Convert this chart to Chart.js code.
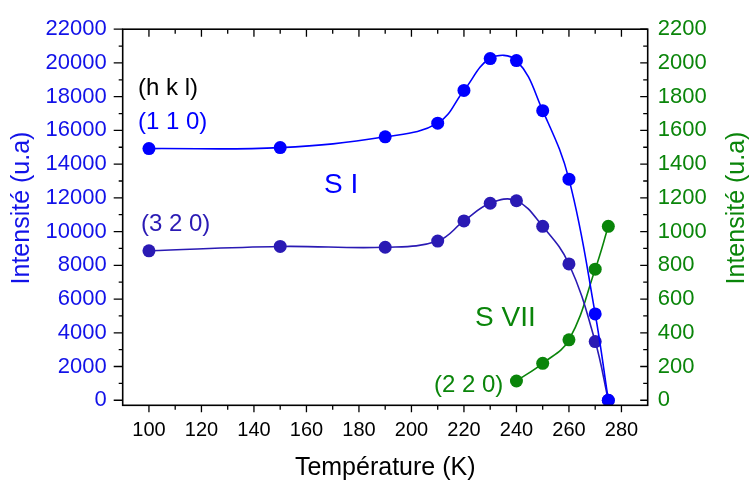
<!DOCTYPE html>
<html>
<head>
<meta charset="utf-8">
<script src="https://cdn.jsdelivr.net/npm/chart.js@4"></script>
<style>
  html, body { margin: 0; padding: 0; background: #fff; }
  #c { display: block; }
</style>
</head>
<body>
<canvas id="c" width="750" height="486"></canvas>
<script>
// ---- data ----
const temps110 = [100, 150, 190, 210, 220, 230, 240, 250, 260, 270, 275];
const int110   = [14920, 14980, 15620, 16430, 18370, 20260, 20140, 17170, 13110, 5120, 0];
const temps320 = [100, 150, 190, 210, 220, 230, 240, 250, 260, 270, 275];
const int320   = [8860, 9120, 9070, 9440, 10630, 11680, 11830, 10310, 8080, 3480, 0];
const temps220 = [240, 250, 260, 270, 275];
const int220   = [114, 219, 358, 777, 1031];

const xTicks      = [100, 120, 140, 160, 180, 200, 220, 240, 260, 280];
const yLeftTicks  = [0, 2000, 4000, 6000, 8000, 10000, 12000, 14000, 16000, 18000, 20000, 22000];
const yRightTicks = [0, 200, 400, 600, 800, 1000, 1200, 1400, 1600, 1800, 2000, 2200];

const BLUE = '#0000ff';
const BLUE_TXT = '#1212e8';
const DARK = '#2a1ab4';
const GREEN = '#0a850a';
const FONT = "'Liberation Sans', Arial, sans-serif";

function pts(xs, ys) { return xs.map((x, i) => ({ x: x, y: ys[i] })); }

const framePlugin = {
  id: 'frame',
  afterDraw(chart) {
    const ctx = chart.ctx;
    const a = chart.chartArea;
    const sx = chart.scales.x, sy = chart.scales.y, sy2 = chart.scales.y2;
    ctx.save();
    ctx.strokeStyle = '#000';
    ctx.lineWidth = 1.6;
    ctx.lineCap = 'butt';
    // box
    ctx.strokeRect(a.left, a.top, a.right - a.left, a.bottom - a.top);
    ctx.lineWidth = 1.3;
    ctx.beginPath();
    // bottom (outward) + top (inward) ticks
    for (let v = 90; v <= 290; v += 10) {
      const px = sx.getPixelForValue(v);
      if (px <= a.left + 1 || px >= a.right - 1) continue;
      const major = xTicks.includes(v);
      const lb = major ? 7 : 4.5;
      const lt = major ? 7.5 : 4.5;
      ctx.moveTo(px, a.bottom); ctx.lineTo(px, a.bottom + lb);
      ctx.moveTo(px, a.top); ctx.lineTo(px, a.top + lt);
    }
    // left ticks (outward)
    for (let v = 0; v <= 22000; v += 1000) {
      const py = sy.getPixelForValue(v);
      const major = yLeftTicks.includes(v);
      const l = major ? 9 : 4;
      ctx.moveTo(a.left, py); ctx.lineTo(a.left - l, py);
    }
    // right ticks (inward)
    for (let v = 0; v <= 2200; v += 100) {
      const py = sy2.getPixelForValue(v);
      const major = yRightTicks.includes(v);
      const l = major ? 7.5 : 4.5;
      ctx.moveTo(a.right, py); ctx.lineTo(a.right - l, py);
    }
    ctx.stroke();

    // axis titles
    ctx.textBaseline = 'middle';
    ctx.textAlign = 'center';
    ctx.font = '25px ' + FONT;
    ctx.fillStyle = '#000';
    ctx.fillText('Température (K)', (a.left + a.right) / 2, 468);

    ctx.save();
    ctx.translate(22, 208);
    ctx.rotate(-Math.PI / 2);
    ctx.fillStyle = BLUE_TXT;
    ctx.fillText('Intensité (u.a)', 0, 0);
    ctx.restore();

    ctx.save();
    ctx.translate(737, 208);
    ctx.rotate(-Math.PI / 2);
    ctx.fillStyle = GREEN;
    ctx.fillText('Intensité (u.a)', 0, 0);
    ctx.restore();

    // annotations
    ctx.textAlign = 'left';
    ctx.font = '24px ' + FONT;
    ctx.fillStyle = '#000';
    ctx.fillText('(h k l)', 138, 88);
    ctx.fillStyle = BLUE;
    ctx.fillText('(1 1 0)', 138, 122);
    ctx.fillStyle = DARK;
    ctx.fillText('(3 2 0)', 141, 224);
    ctx.fillStyle = GREEN;
    ctx.fillText('(2 2 0)', 434, 385);
    ctx.font = '28px ' + FONT;
    ctx.fillStyle = BLUE;
    ctx.fillText('S I', 324, 185);
    ctx.fillStyle = GREEN;
    ctx.fillText('S VII', 475, 318);
    ctx.restore();
  }
};

const common = { borderWidth: 1.6, pointRadius: 6.5, pointHoverRadius: 6.5, pointBorderWidth: 0, tension: 0.4, fill: false };

new Chart(document.getElementById('c'), {
  type: 'line',
  data: {
    datasets: [
      Object.assign({ label: '(1 1 0)', data: pts(temps110, int110), yAxisID: 'y',
        borderColor: BLUE, backgroundColor: BLUE, pointBackgroundColor: BLUE }, common),
      Object.assign({ label: '(3 2 0)', data: pts(temps320, int320), yAxisID: 'y',
        borderColor: DARK, backgroundColor: DARK, pointBackgroundColor: DARK }, common),
      Object.assign({ label: '(2 2 0)', data: pts(temps220, int220), yAxisID: 'y2',
        borderColor: GREEN, backgroundColor: GREEN, pointBackgroundColor: GREEN }, common)
    ]
  },
  options: {
    responsive: false,
    animation: false,
    devicePixelRatio: 1,
    layout: { padding: { top: 20.7, left: 0, right: 0, bottom: 0 } },
    plugins: { legend: { display: false }, tooltip: { enabled: false } },
    scales: {
      x: {
        type: 'linear', position: 'bottom', min: 90, max: 290,
        grid: { display: false, drawTicks: false }, border: { display: false },
        afterBuildTicks: s => { s.ticks = xTicks.map(v => ({ value: v })); },
        afterFit: s => { s.height = 486 - 405.3; },
        ticks: { color: '#000', font: { family: FONT, size: 20 }, padding: 13, maxRotation: 0, autoSkip: false }
      },
      y: {
        type: 'linear', position: 'left', min: -300, max: 22000,
        grid: { display: false, drawTicks: false }, border: { display: false },
        afterBuildTicks: s => { s.ticks = yLeftTicks.map(v => ({ value: v })); },
        afterFit: s => { s.width = 122.7; },
        ticks: { color: BLUE_TXT, font: { family: FONT, size: 22 }, padding: 16, autoSkip: false,
          callback: v => String(v) }
      },
      y2: {
        type: 'linear', position: 'right', min: -30, max: 2200,
        grid: { display: false, drawTicks: false }, border: { display: false },
        afterBuildTicks: s => { s.ticks = yRightTicks.map(v => ({ value: v })); },
        afterFit: s => { s.width = 750 - 647.7; },
        ticks: { color: GREEN, font: { family: FONT, size: 22 }, padding: 10, autoSkip: false,
          callback: v => String(v) }
      }
    }
  },
  plugins: [framePlugin]
});
</script>
</body>
</html>
